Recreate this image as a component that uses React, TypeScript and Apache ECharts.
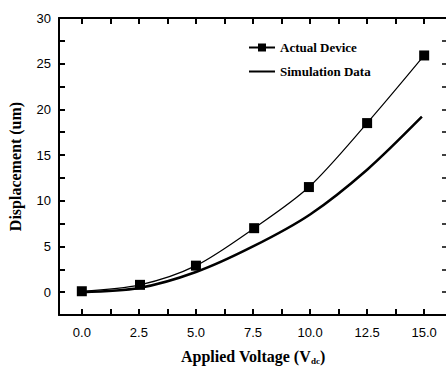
import React, { useEffect, useRef } from "react";
import * as echarts from "echarts";

const actualVoltage = [0, 2.55, 5, 7.55, 9.95, 12.5, 15];
const actualDisp = [0.1, 0.8, 2.9, 7.0, 11.5, 18.5, 25.9];
const simVoltage = [0, 2.5, 5, 7.5, 10, 12.5, 14.9];
const simDisp = [0, 0.45, 2.2, 5.0, 8.5, 13.4, 19.2];
const xMajor = [0, 2.5, 5, 7.5, 10, 12.5, 15];
const xMinor = [1.25, 3.75, 6.25, 8.75, 11.25, 13.75];
const yMajor = [0, 5, 10, 15, 20, 25, 30];
const yMinor = [2.5, 7.5, 12.5, 17.5, 22.5, 27.5];
const X_MIN = -1;
const X_MAX = 16;
const Y_MIN = -2.5;
const Y_MAX = 30;

export default function App() {
  const ref = useRef<HTMLDivElement>(null);
  useEffect(() => {
    const chart = echarts.init(ref.current!, null, { renderer: "svg" });
    const labelFont = { color: "#000", fontSize: 13, fontFamily: "Liberation Sans, Arial, sans-serif" };
    const serif = "Liberation Serif, Times New Roman, serif";
    const tickStyle = { color: "#000", width: 2 };
    chart.setOption({
      animation: false,
      backgroundColor: "#fff",
      grid: { left: 59, right: -1, top: 18, bottom: 53, outerBoundsMode: "none", containLabel: false },
      legend: {
        orient: "vertical",
        left: 248,
        top: 41,
        padding: 0,
        itemWidth: 26,
        itemHeight: 10,
        itemGap: 11,
        textStyle: { color: "#000", fontSize: 13, fontWeight: "bold", fontFamily: serif },
        data: [
          { name: "Actual Device" },
          { name: "Simulation Data", itemStyle: { opacity: 0 } },
        ],
      },
      xAxis: [
        {
          type: "value", min: X_MIN, max: X_MAX, position: "bottom",
          splitLine: { show: false },
          axisLine: { show: true, onZero: false, lineStyle: { color: "#000", width: 2 } },
          axisTick: { show: true, inside: true, length: 6, customValues: [...xMajor, ...xMinor], lineStyle: tickStyle },
          axisLabel: { ...labelFont, margin: 11, customValues: xMajor, formatter: (v: number) => v.toFixed(1) },
          name: "Applied Voltage (V{sub|dc})",
          nameLocation: "middle",
          nameGap: 32,
          nameTextStyle: {
            color: "#000", fontSize: 16, fontWeight: "bold", fontFamily: serif,
            rich: { sub: { fontSize: 9, fontWeight: "bold", fontFamily: serif, padding: [9, 0, 0, 0] } },
          },
        },
        {
          type: "value", min: X_MIN, max: X_MAX, position: "top",
          splitLine: { show: false },
          axisLine: { show: true, onZero: false, lineStyle: { color: "#000", width: 2 } },
          axisTick: { show: true, inside: true, length: 6, customValues: [...xMajor, ...xMinor], lineStyle: tickStyle },
          axisLabel: { show: false, customValues: xMajor },
        },
      ],
      yAxis: [
        {
          type: "value", min: Y_MIN, max: Y_MAX, position: "left",
          splitLine: { show: false },
          axisLine: { show: true, onZero: false, lineStyle: { color: "#000", width: 2 } },
          axisTick: { show: true, inside: true, length: 6, customValues: [...yMajor, ...yMinor], lineStyle: tickStyle },
          axisLabel: { ...labelFont, margin: 8, customValues: yMajor },
          name: "Displacement (um)",
          nameLocation: "middle",
          nameGap: 36,
          nameTextStyle: { color: "#000", fontSize: 16, fontWeight: "bold", fontFamily: serif },
        },
        {
          type: "value", min: Y_MIN, max: Y_MAX, position: "right",
          splitLine: { show: false },
          axisLine: { show: false, onZero: false },
          axisTick: { show: true, inside: true, length: 5, customValues: [...yMajor, ...yMinor], lineStyle: { color: "#000", width: 1.5 } },
          axisLabel: { show: false, customValues: yMajor },
        },
      ],
      series: [
        {
          name: "Actual Device",
          type: "line",
          smooth: 0.3,
          data: actualVoltage.map((v, i) => [v, actualDisp[i]]),
          symbol: "rect",
          symbolSize: 10,
          itemStyle: { color: "#000" },
          lineStyle: { color: "#000", width: 1.2 },
        },
        {
          name: "Simulation Data",
          type: "line",
          smooth: 0.3,
          data: simVoltage.map((v, i) => [v, simDisp[i]]),
          symbol: "none",
          itemStyle: { color: "#000" },
          lineStyle: { color: "#000", width: 2.5 },
        },
      ],
    });
    return () => chart.dispose();
  }, []);
  return <div ref={ref} style={{ width: 446, height: 368, position: "absolute", left: 0, top: 0 }} />;
}
